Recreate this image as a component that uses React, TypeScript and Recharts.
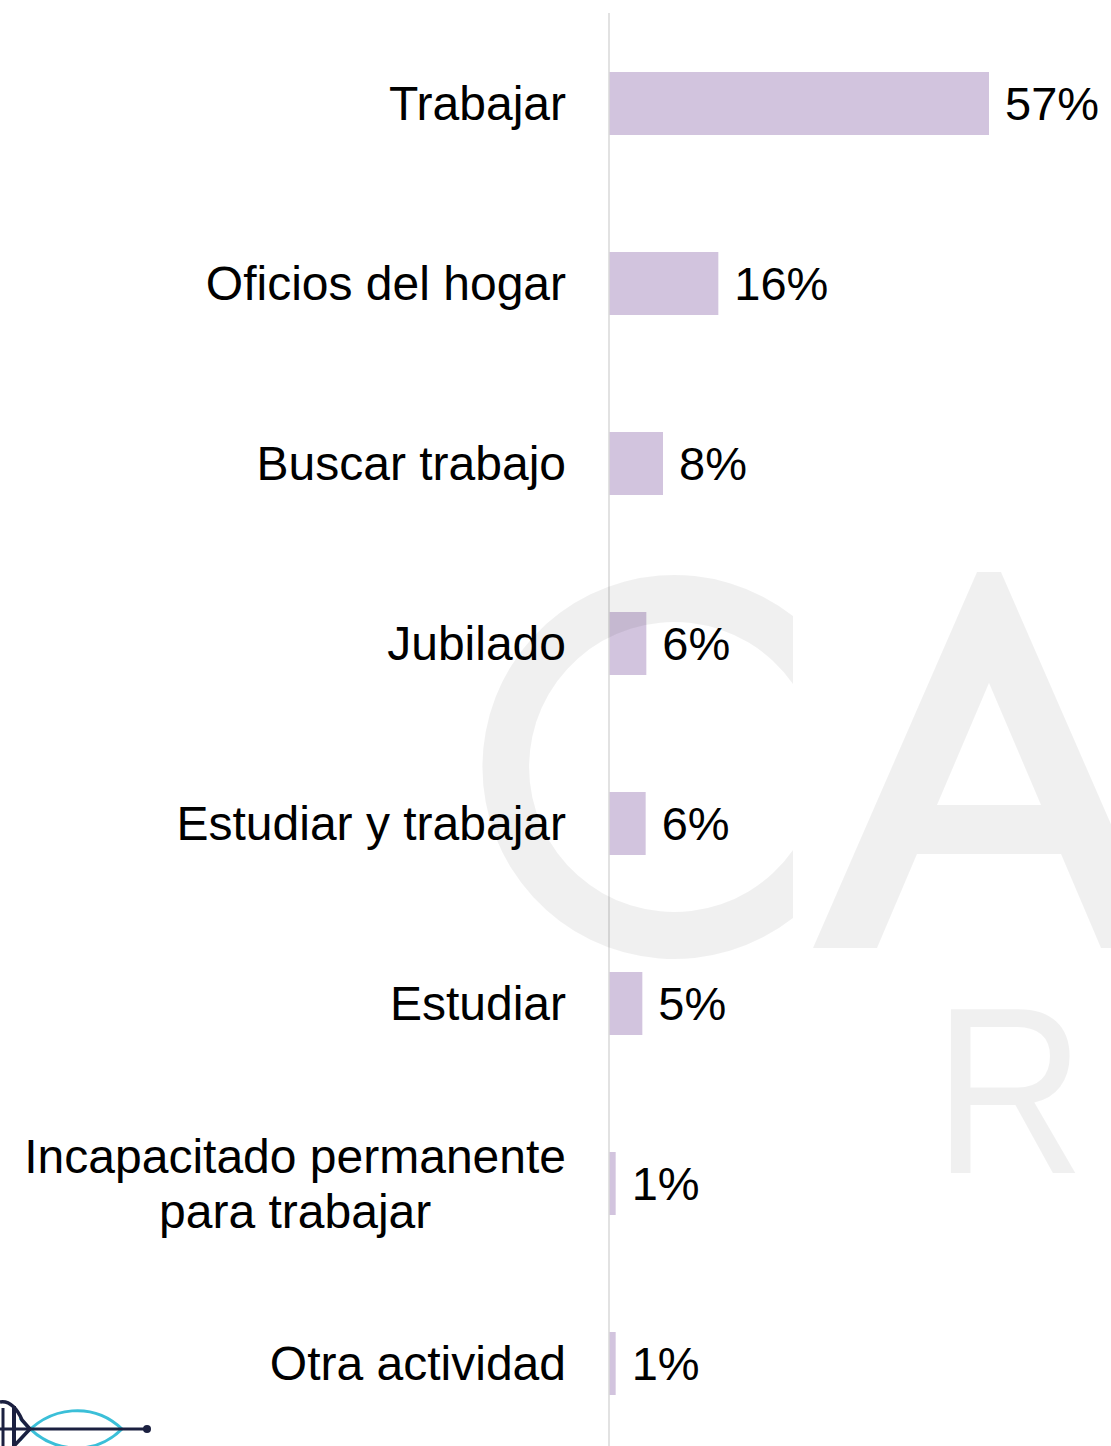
import { BarChart, Bar, XAxis, YAxis, LabelList } from 'recharts';

const categories = [
  'Trabajar',
  'Oficios del hogar',
  'Buscar trabajo',
  'Jubilado',
  'Estudiar y trabajar',
  'Estudiar',
  'Incapacitado permanente\npara trabajar',
  'Otra actividad',
];
const shares = [57, 16.4, 8.1, 5.6, 5.5, 5.0, 1.0, 1.0];

const data = categories.map((name, i) => ({ name, value: shares[i] }));

const FONT = '"Liberation Sans", Arial, sans-serif';
const TICK_SIZE = 48;
const LABEL_SIZE = 47;
const BAR_COLOR = '#d2c4de';
const MARK = 'rgba(0,0,0,0.06)';

let ctx: CanvasRenderingContext2D | null = null;
function textWidth(s: string) {
  if (!ctx) ctx = document.createElement('canvas').getContext('2d');
  if (!ctx) return s.length * TICK_SIZE * 0.5;
  ctx.font = `${TICK_SIZE}px ${FONT}`;
  return ctx.measureText(s).width;
}

function CategoryTick({ x, y, payload }: any) {
  const lines = String(payload.value).split('\n');
  if (lines.length === 1) {
    return (
      <text x={x} y={y} dy="0.355em" textAnchor="end" fill="#000" fontSize={TICK_SIZE} fontFamily={FONT}>
        {lines[0]}
      </text>
    );
  }
  const maxW = Math.max(...lines.map(textWidth));
  const cx = x - maxW / 2;
  const lh = 55;
  return (
    <text x={cx} y={y} textAnchor="middle" fill="#000" fontSize={TICK_SIZE} fontFamily={FONT}>
      {lines.map((l, i) => (
        <tspan key={i} x={cx} y={y + (i - (lines.length - 1) / 2) * lh} dy="0.355em">
          {l}
        </tspan>
      ))}
    </text>
  );
}

// faint watermark letters drawn over the chart
function Watermark() {
  const c = 'M 793 616 A 192 192 0 1 0 793 918 L 793 850 A 145 145 0 1 1 793 684 Z';
  const a =
    'M 813 948 L 977 572 L 1001 572 L 1165 948 L 1101 948 L 1061 854 L 917 854 L 877 948 Z ' +
    'M 989 683 L 1041 805 L 937 805 Z';
  return (
    <svg width={1111} height={1446} style={{ position: 'absolute', left: 0, top: 0, pointerEvents: 'none' }}>
      <path d={c} fill={MARK} />
      <path d={a} fill={MARK} fillRule="evenodd" />
      <g transform="translate(946 1173) scale(0.88 1)">
        <text x={-14} y={0} fontSize={238} fontFamily={FONT} fill={MARK}>R</text>
      </g>
    </svg>
  );
}

function Logo() {
  return (
    <svg width={160} height={50} style={{ position: 'absolute', left: 0, top: 1398 }}>
      <path d="M 20 42 C 50 5, 95 5, 122 31" stroke="#3bbfd8" strokeWidth={3} fill="none" />
      <path d="M 20 20 C 50 58, 95 58, 122 31" stroke="#3bbfd8" strokeWidth={3} fill="none" />
      <line x1={0} y1={31} x2={147} y2={31} stroke="#1b2040" strokeWidth={3} />
      <circle cx={147} cy={31} r={4} fill="#1b2040" />
      <line x1={3} y1={10} x2={3} y2={50} stroke="#1b2040" strokeWidth={3} />
      <line x1={14} y1={8} x2={14} y2={50} stroke="#1b2040" strokeWidth={4} />
      <path d="M 0 4 C 10 2, 18 12, 22 22 L 30 31 L 14 48" stroke="#1b2040" strokeWidth={3.5} fill="none" />
    </svg>
  );
}

export default function App() {
  return (
    <div style={{ position: 'absolute', left: 0, top: 0, width: 1111, height: 1446, overflow: 'hidden', background: '#fff' }}>
      <BarChart
        width={1111}
        height={1460}
        data={data}
        layout="vertical"
        margin={{ top: 13, right: 2, bottom: 7, left: 0 }}
      >
        <XAxis type="number" domain={[0, 75]} hide />
        <YAxis
          type="category"
          dataKey="name"
          width={609}
          tickLine={false}
          tickSize={0}
          tickMargin={43}
          axisLine={{ stroke: '#d9d9d9', strokeWidth: 1.5 }}
          tick={<CategoryTick />}
          interval={0}
        />
        <Bar dataKey="value" fill={BAR_COLOR} barSize={63} isAnimationActive={false}>
          <LabelList
            dataKey="value"
            position="right"
            offset={16}
            fill="#000"
            fontSize={LABEL_SIZE}
            fontFamily={FONT}
            formatter={(v: any) => `${Math.round(Number(v))}%`}
          />
        </Bar>
      </BarChart>
      <Watermark />
      <Logo />
    </div>
  );
}
